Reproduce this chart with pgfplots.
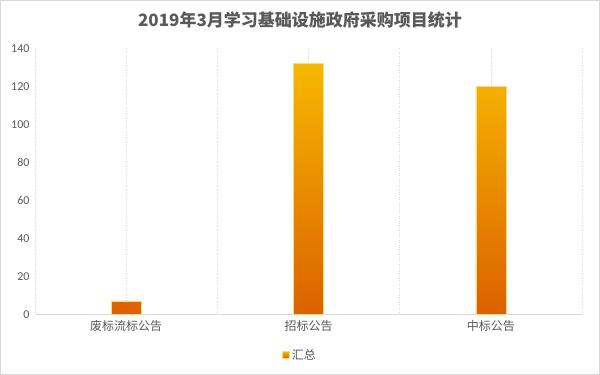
\documentclass[border=0pt]{standalone}
\usepackage{fontspec}
\setmainfont{Noto Sans CJK SC}
\newfontfamily\carlito{Carlito}
\usepackage{pgfplots}
\pgfplotsset{compat=1.18}
\definecolor{txt}{HTML}{595959}
\definecolor{gridc}{HTML}{D9D9D9}
\definecolor{bartop}{HTML}{F6B800}
\definecolor{barbot}{HTML}{DC6100}
\begin{document}
\begin{tikzpicture}
\useasboundingbox (0,0) rectangle (600bp,375bp);
\fill[white] (0,0) rectangle (600bp,375bp);
\draw[gridc, line width=1bp] (0.5bp,0.5bp) rectangle (599.5bp,374.5bp);
\node[font=\fontsize{17bp}{20bp}\selectfont\bfseries, text=txt] at (300bp,355bp) {2019年3月学习基础设施政府采购项目统计};
\begin{axis}[
 at={(35bp,60.7bp)}, anchor=south west,
 scale only axis, width=547bp, height=266bp,
 xmin=-0.5, xmax=2.5, ymin=0, ymax=140,
 xtick={0,1,2}, xticklabels={废标流标公告,招标公告,中标公告},
 minor xtick={-0.5,0.5,1.5,2.5},
 ytick={0,20,...,140},
 xmajorgrids, xminorgrids,
 major grid style={gridc, dotted, line width=0.6bp},
 minor grid style={gridc, dotted, line width=0.6bp},
 axis x line*=bottom, axis y line*=left,
 x axis line style={gridc, line width=0.75bp},
 y axis line style={draw=none},
 major tick length=0pt, minor tick length=0pt,
 tick label style={text=txt},
 xticklabel style={font=\fontsize{12bp}{14bp}\selectfont, yshift=-3bp},
 yticklabel style={font=\carlito\fontsize{12bp}{14bp}\selectfont, xshift=-2bp},
 /pgf/number format/assume math mode=true,
 legend style={at={(0.4845,-0.153)}, anchor=center, draw=none, fill=none,
   font=\fontsize{12bp}{14bp}\selectfont, text=txt},
 legend image code/.code={\fill[top color=bartop,bottom color=barbot] (0bp,-3.5bp) rectangle (7bp,3.5bp);},
]
\addplot[ybar, bar width=30bp, draw=bartop!50!white, line width=0.5bp, top color=bartop, bottom color=barbot] coordinates {(0,7) (1,132) (2,120)};
\addlegendentry{汇总}
\end{axis}
\end{tikzpicture}
\end{document}
